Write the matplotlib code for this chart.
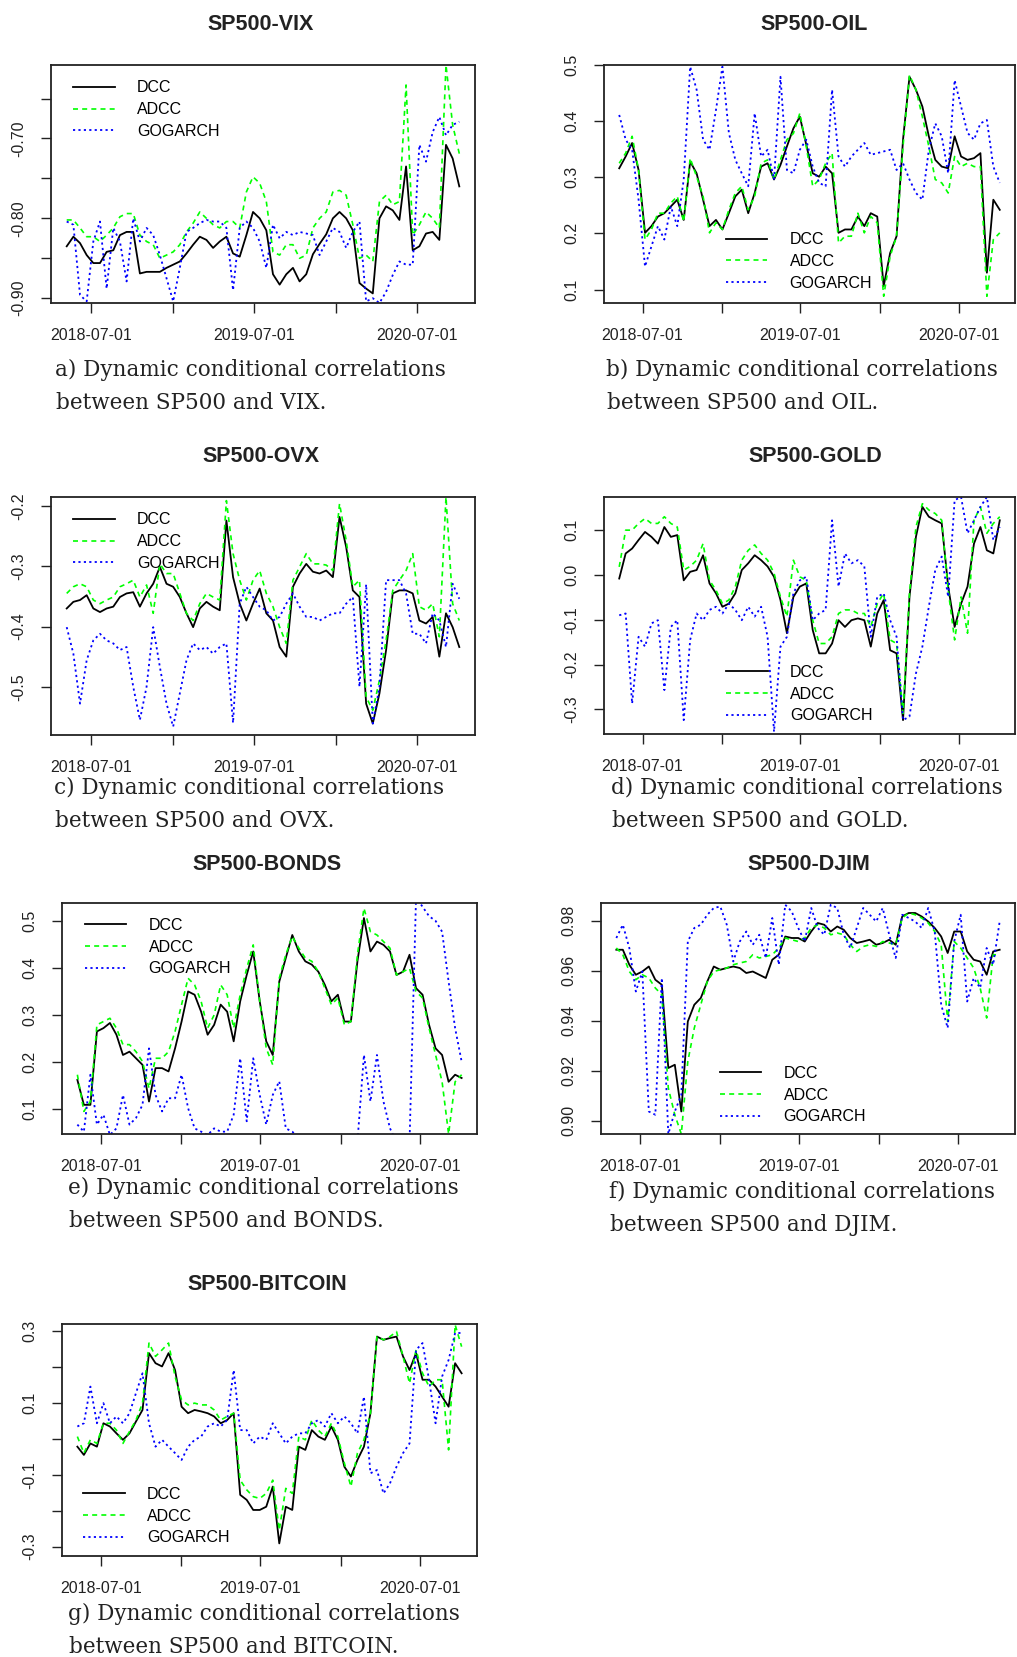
import matplotlib
matplotlib.use("Agg")
import matplotlib.pyplot as plt
import pandas as pd

# dates communes a toutes les series (echantillon)
dates = pd.date_range("2018-05-08", "2020-10-04", periods=60)
tick_dates = pd.to_datetime(["2018-07-01", "2019-01-01", "2019-07-01", "2020-01-01", "2020-07-01"])
tick_labels = ["2018-07-01", "", "2019-07-01", "", "2020-07-01"]
series_names = ["DCC", "ADCC", "GOGARCH"]

vix_dcc = [-0.835, -0.823, -0.831, -0.846, -0.856, -0.856, -0.842, -0.840, -0.821, -0.817,
           -0.817, -0.869, -0.867, -0.867, -0.867, -0.862, -0.858, -0.854, -0.844, -0.833,
           -0.823, -0.827, -0.837, -0.829, -0.823, -0.844, -0.848, -0.821, -0.792, -0.800,
           -0.815, -0.870, -0.883, -0.870, -0.862, -0.879, -0.870, -0.845, -0.832, -0.820,
           -0.800, -0.792, -0.800, -0.815, -0.881, -0.888, -0.894, -0.800, -0.785, -0.790,
           -0.802, -0.735, -0.840, -0.835, -0.819, -0.817, -0.827, -0.708, -0.725, -0.760]
vix_adcc = [-0.802, -0.802, -0.812, -0.823, -0.823, -0.829, -0.821, -0.812, -0.798, -0.794,
            -0.794, -0.821, -0.829, -0.833, -0.850, -0.846, -0.842, -0.833, -0.817, -0.806,
            -0.792, -0.800, -0.808, -0.812, -0.804, -0.804, -0.812, -0.767, -0.748, -0.756,
            -0.779, -0.842, -0.846, -0.833, -0.833, -0.850, -0.846, -0.812, -0.800, -0.792,
            -0.767, -0.765, -0.771, -0.808, -0.850, -0.846, -0.854, -0.779, -0.771, -0.783,
            -0.779, -0.633, -0.821, -0.808, -0.792, -0.800, -0.812, -0.608, -0.683, -0.719]
vix_gogarch = [-0.804, -0.808, -0.896, -0.904, -0.829, -0.804, -0.888, -0.812, -0.829, -0.879,
               -0.800, -0.829, -0.812, -0.821, -0.846, -0.875, -0.904, -0.862, -0.817, -0.812,
               -0.806, -0.802, -0.804, -0.804, -0.812, -0.890, -0.812, -0.804, -0.812, -0.829,
               -0.862, -0.808, -0.825, -0.817, -0.821, -0.817, -0.819, -0.821, -0.846, -0.829,
               -0.812, -0.817, -0.837, -0.817, -0.804, -0.904, -0.900, -0.906, -0.892, -0.871,
               -0.854, -0.858, -0.858, -0.708, -0.729, -0.692, -0.673, -0.696, -0.683, -0.679]

oil_dcc = [0.316, 0.337, 0.361, 0.313, 0.201, 0.213, 0.230, 0.236, 0.248, 0.260,
           0.224, 0.328, 0.307, 0.260, 0.213, 0.224, 0.207, 0.236, 0.266, 0.278,
           0.236, 0.272, 0.319, 0.325, 0.296, 0.322, 0.355, 0.387, 0.408, 0.358,
           0.307, 0.301, 0.319, 0.307, 0.201, 0.207, 0.207, 0.230, 0.213, 0.236,
           0.230, 0.106, 0.165, 0.195, 0.367, 0.479, 0.456, 0.426, 0.373, 0.331,
           0.319, 0.316, 0.373, 0.337, 0.331, 0.334, 0.343, 0.130, 0.260, 0.242]
oil_adcc = [0.325, 0.343, 0.373, 0.313, 0.189, 0.207, 0.236, 0.236, 0.254, 0.266,
            0.221, 0.334, 0.301, 0.266, 0.201, 0.219, 0.207, 0.242, 0.272, 0.284,
            0.242, 0.266, 0.325, 0.331, 0.296, 0.331, 0.367, 0.378, 0.414, 0.355,
            0.284, 0.296, 0.325, 0.343, 0.183, 0.195, 0.195, 0.236, 0.201, 0.230,
            0.219, 0.088, 0.159, 0.195, 0.355, 0.482, 0.456, 0.408, 0.355, 0.296,
            0.290, 0.272, 0.337, 0.319, 0.325, 0.319, 0.319, 0.088, 0.189, 0.201]
oil_gogarch = [0.411, 0.367, 0.349, 0.260, 0.141, 0.177, 0.213, 0.189, 0.248, 0.213,
               0.296, 0.497, 0.456, 0.367, 0.349, 0.420, 0.497, 0.379, 0.331, 0.307,
               0.284, 0.414, 0.337, 0.349, 0.296, 0.479, 0.313, 0.307, 0.349, 0.367,
               0.319, 0.290, 0.284, 0.456, 0.337, 0.319, 0.337, 0.349, 0.361, 0.340,
               0.343, 0.346, 0.349, 0.313, 0.325, 0.296, 0.272, 0.260, 0.349, 0.396,
               0.373, 0.307, 0.473, 0.426, 0.379, 0.367, 0.396, 0.402, 0.319, 0.290]

ovx_dcc = [-0.370, -0.359, -0.356, -0.348, -0.370, -0.376, -0.370, -0.367, -0.351, -0.345,
           -0.343, -0.367, -0.345, -0.329, -0.301, -0.329, -0.334, -0.351, -0.378, -0.401,
           -0.370, -0.359, -0.367, -0.373, -0.224, -0.318, -0.362, -0.390, -0.362, -0.337,
           -0.378, -0.390, -0.434, -0.450, -0.334, -0.312, -0.296, -0.309, -0.312, -0.307,
           -0.318, -0.218, -0.268, -0.340, -0.351, -0.528, -0.561, -0.511, -0.439, -0.345,
           -0.340, -0.340, -0.345, -0.390, -0.395, -0.384, -0.450, -0.378, -0.401, -0.434]
ovx_adcc = [-0.345, -0.334, -0.329, -0.334, -0.356, -0.362, -0.356, -0.351, -0.334, -0.329,
            -0.323, -0.351, -0.331, -0.378, -0.296, -0.312, -0.312, -0.345, -0.378, -0.390,
            -0.362, -0.345, -0.351, -0.356, -0.191, -0.279, -0.323, -0.356, -0.323, -0.307,
            -0.345, -0.367, -0.401, -0.428, -0.323, -0.301, -0.279, -0.296, -0.296, -0.298,
            -0.307, -0.196, -0.257, -0.334, -0.323, -0.517, -0.539, -0.489, -0.423, -0.340,
            -0.323, -0.307, -0.279, -0.367, -0.373, -0.362, -0.417, -0.185, -0.362, -0.390]
ovx_gogarch = [-0.401, -0.445, -0.528, -0.456, -0.423, -0.412, -0.423, -0.428, -0.439, -0.434,
               -0.500, -0.555, -0.500, -0.401, -0.467, -0.528, -0.566, -0.511, -0.456, -0.428,
               -0.439, -0.434, -0.445, -0.434, -0.428, -0.560, -0.362, -0.334, -0.351, -0.367,
               -0.373, -0.390, -0.384, -0.362, -0.345, -0.367, -0.384, -0.384, -0.390, -0.384,
               -0.378, -0.378, -0.362, -0.351, -0.500, -0.330, -0.561, -0.500, -0.323, -0.323,
               -0.323, -0.345, -0.412, -0.412, -0.428, -0.378, -0.390, -0.434, -0.329, -0.354]

gold_dcc = [-0.008, 0.048, 0.059, 0.078, 0.096, 0.085, 0.070, 0.107, 0.085, 0.089,
            -0.012, 0.007, 0.011, 0.044, -0.019, -0.041, -0.071, -0.064, -0.041, 0.011,
            0.026, 0.044, 0.033, 0.019, -0.004, -0.056, -0.130, -0.049, -0.026, -0.019,
            -0.123, -0.175, -0.175, -0.153, -0.101, -0.116, -0.101, -0.097, -0.101, -0.160,
            -0.086, -0.056, -0.168, -0.175, -0.324, -0.049, 0.085, 0.152, 0.130, 0.122,
            0.115, -0.026, -0.116, -0.064, -0.026, 0.070, 0.107, 0.055, 0.048, 0.122]
gold_adcc = [0.018, 0.100, 0.100, 0.115, 0.126, 0.115, 0.115, 0.130, 0.115, 0.107,
             0.011, 0.019, 0.033, 0.070, -0.012, -0.034, -0.064, -0.056, -0.026, 0.033,
             0.055, 0.067, 0.048, 0.033, 0.004, -0.049, -0.093, 0.033, -0.004, -0.012,
             -0.101, -0.153, -0.153, -0.138, -0.086, -0.078, -0.078, -0.086, -0.086, -0.116,
             -0.064, -0.041, -0.145, -0.153, -0.309, -0.041, 0.107, 0.159, 0.145, 0.137,
             0.122, -0.034, -0.145, -0.049, -0.130, 0.122, 0.152, 0.093, 0.115, 0.130]
gold_gogarch = [-0.090, -0.086, -0.287, -0.138, -0.160, -0.108, -0.101, -0.257, -0.116, -0.101,
                -0.324, -0.145, -0.086, -0.101, -0.078, -0.071, -0.086, -0.064, -0.078, -0.101,
                -0.071, -0.093, -0.071, -0.138, -0.350, -0.160, -0.138, -0.041, -0.012, -0.004,
                -0.101, -0.086, -0.078, 0.122, -0.026, 0.048, 0.026, 0.033, 0.019, -0.138,
                -0.049, -0.041, -0.101, -0.138, -0.324, -0.316, -0.220, -0.160, -0.071, 0.011,
                0.041, -0.049, 0.167, 0.174, 0.093, 0.122, 0.152, 0.174, 0.078, 0.107]

bonds_dcc = [0.162, 0.109, 0.109, 0.265, 0.272, 0.283, 0.258, 0.215, 0.222, 0.208,
             0.194, 0.116, 0.187, 0.187, 0.180, 0.229, 0.286, 0.350, 0.343, 0.307,
             0.258, 0.279, 0.322, 0.307, 0.244, 0.329, 0.385, 0.435, 0.329, 0.244,
             0.215, 0.371, 0.421, 0.470, 0.435, 0.414, 0.407, 0.392, 0.364, 0.329,
             0.343, 0.286, 0.286, 0.414, 0.506, 0.435, 0.456, 0.449, 0.435, 0.385,
             0.392, 0.428, 0.357, 0.343, 0.279, 0.229, 0.215, 0.158, 0.173, 0.166]
bonds_adcc = [0.173, 0.095, 0.116, 0.279, 0.286, 0.293, 0.272, 0.237, 0.237, 0.222,
              0.201, 0.144, 0.208, 0.208, 0.222, 0.265, 0.322, 0.378, 0.364, 0.329,
              0.272, 0.300, 0.364, 0.343, 0.272, 0.343, 0.399, 0.449, 0.329, 0.229,
              0.194, 0.378, 0.428, 0.467, 0.442, 0.421, 0.414, 0.392, 0.357, 0.322,
              0.336, 0.279, 0.286, 0.428, 0.527, 0.477, 0.470, 0.456, 0.442, 0.385,
              0.392, 0.399, 0.350, 0.336, 0.272, 0.215, 0.158, 0.047, 0.158, 0.173]
bonds_gogarch = [0.067, 0.052, 0.173, 0.067, 0.088, 0.045, 0.059, 0.130, 0.067, 0.081,
                 0.109, 0.229, 0.130, 0.095, 0.123, 0.123, 0.173, 0.102, 0.059, 0.052,
                 0.045, 0.059, 0.052, 0.052, 0.088, 0.208, 0.074, 0.208, 0.130, 0.067,
                 0.130, 0.159, 0.059, 0.052, 0.038, 0.030, 0.030, 0.030, 0.030, 0.030,
                 0.030, 0.030, 0.030, 0.030, 0.215, 0.116, 0.215, 0.116, 0.059, 0.030,
                 0.030, 0.030, 0.550, 0.530, 0.510, 0.500, 0.477, 0.371, 0.272, 0.201]

djim_dcc = [0.9684, 0.9684, 0.9624, 0.9584, 0.9597, 0.9617, 0.9564, 0.9544, 0.9211, 0.9224,
            0.9037, 0.9397, 0.9464, 0.9491, 0.9557, 0.9617, 0.9604, 0.9611, 0.9617, 0.9611,
            0.9591, 0.9597, 0.9584, 0.9571, 0.9644, 0.9664, 0.9737, 0.9731, 0.9731, 0.9717,
            0.9757, 0.9791, 0.9784, 0.9757, 0.9777, 0.9764, 0.9731, 0.9711, 0.9717, 0.9724,
            0.9704, 0.9711, 0.9724, 0.9704, 0.9817, 0.9831, 0.9831, 0.9817, 0.9797, 0.9771,
            0.9737, 0.9671, 0.9757, 0.9757, 0.9677, 0.9644, 0.9637, 0.9584, 0.9677, 0.9684]
djim_adcc = [0.9691, 0.9664, 0.9597, 0.9564, 0.9584, 0.9571, 0.9531, 0.9504, 0.9131, 0.9024,
             0.8947, 0.9237, 0.9371, 0.9464, 0.9557, 0.9597, 0.9604, 0.9611, 0.9624, 0.9631,
             0.9637, 0.9664, 0.9651, 0.9657, 0.9664, 0.9691, 0.9731, 0.9724, 0.9717, 0.9731,
             0.9771, 0.9784, 0.9771, 0.9744, 0.9751, 0.9744, 0.9704, 0.9677, 0.9697, 0.9704,
             0.9697, 0.9717, 0.9711, 0.9704, 0.9811, 0.9831, 0.9824, 0.9811, 0.9791, 0.9757,
             0.9704, 0.9397, 0.9717, 0.9691, 0.9651, 0.9611, 0.9531, 0.9411, 0.9664, 0.9664]
djim_gogarch = [0.9731, 0.9784, 0.9691, 0.9517, 0.9597, 0.9037, 0.9024, 0.9571, 0.8947, 0.9037,
                0.9104, 0.9717, 0.9771, 0.9784, 0.9824, 0.9851, 0.9857, 0.9784, 0.9637, 0.9717,
                0.9757, 0.9704, 0.9744, 0.9651, 0.9811, 0.9624, 0.9864, 0.9837, 0.9771, 0.9717,
                0.9851, 0.9771, 0.9744, 0.9864, 0.9851, 0.9744, 0.9691, 0.9771, 0.9851, 0.9824,
                0.9797, 0.9851, 0.9744, 0.9651, 0.9824, 0.9811, 0.9797, 0.9771, 0.9851, 0.9757,
                0.9464, 0.9371, 0.9717, 0.9824, 0.9477, 0.9571, 0.9531, 0.9691, 0.9624, 0.9797]

btc_dcc = [-0.022, -0.045, -0.013, -0.022, 0.043, 0.034, 0.015, -0.003, 0.015, 0.048,
           0.080, 0.238, 0.210, 0.201, 0.238, 0.191, 0.089, 0.071, 0.080, 0.076,
           0.071, 0.062, 0.043, 0.052, 0.071, -0.156, -0.170, -0.198, -0.198, -0.189,
           -0.133, -0.291, -0.189, -0.198, -0.022, -0.031, 0.024, 0.006, -0.003, 0.034,
           -0.003, -0.078, -0.105, -0.059, -0.022, 0.071, 0.284, 0.275, 0.280, 0.284,
           0.229, 0.191, 0.238, 0.164, 0.164, 0.145, 0.117, 0.089, 0.210, 0.182]
btc_adcc = [0.006, -0.040, -0.003, -0.013, 0.043, 0.043, 0.024, -0.013, 0.020, 0.052,
            0.099, 0.266, 0.229, 0.247, 0.266, 0.173, 0.108, 0.094, 0.099, 0.094,
            0.094, 0.080, 0.052, 0.062, 0.071, -0.115, -0.142, -0.161, -0.166, -0.152,
            -0.115, -0.254, -0.138, -0.152, 0.006, -0.003, 0.052, 0.024, 0.006, 0.043,
            0.006, -0.068, -0.133, -0.040, -0.003, 0.071, 0.284, 0.275, 0.284, 0.298,
            0.229, 0.154, 0.247, 0.182, 0.145, 0.164, 0.164, -0.031, 0.317, 0.256]
btc_gogarch = [0.034, 0.043, 0.145, 0.043, 0.099, 0.043, 0.062, 0.043, 0.071, 0.127,
               0.182, 0.043, -0.022, -0.003, -0.022, -0.040, -0.059, -0.022, -0.003, 0.006,
               0.034, 0.043, 0.034, 0.052, 0.191, 0.024, 0.024, -0.013, 0.006, -0.003,
               0.043, 0.015, -0.013, 0.006, 0.015, 0.015, 0.043, 0.052, 0.034, 0.071,
               0.043, 0.062, 0.043, 0.015, 0.117, -0.096, -0.087, -0.152, -0.124, -0.078,
               -0.040, -0.013, 0.247, 0.266, 0.164, 0.043, 0.173, 0.219, 0.294, 0.294]

W, H = 1017, 1657
fig = plt.figure(figsize=(W / 100, H / 100), dpi=100)

TICK_FONT = ["Liberation Sans", "DejaVu Sans"]
TITLE_FONT = ["Liberation Sans", "DejaVu Sans"]
CAP_FONT = ["DejaVu Serif"]

# (titre, series, boite en pixels, ylim, yticks, ylabels, legende xy, titre xy, lettre, nom, legende texte xy)
panels = [
    ("SP500-VIX", (vix_dcc, vix_adcc, vix_gogarch), (51, 65, 475, 303), (-0.906, -0.608),
     [-0.90, -0.85, -0.80, -0.75, -0.70, -0.65], ["-0.90", "", "-0.80", "", "-0.70", ""],
     (0.052, 0.935), (261, 25), "a", "VIX", (55, 370)),
    ("SP500-OIL", (oil_dcc, oil_adcc, oil_gogarch), (604, 65, 1015, 303), (0.076, 0.50),
     [0.1, 0.2, 0.3, 0.4, 0.5], ["0.1", "0.2", "0.3", "0.4", "0.5"],
     (0.296, 0.297), (814, 25), "b", "OIL", (606, 370)),
    ("SP500-OVX", (ovx_dcc, ovx_adcc, ovx_gogarch), (51, 497, 475, 735), (-0.580, -0.185),
     [-0.5, -0.4, -0.3, -0.2], ["-0.5", "-0.4", "-0.3", "-0.2"],
     (0.052, 0.935), (261, 457), "c", "OVX", (54, 788)),
    ("SP500-GOLD", (gold_dcc, gold_adcc, gold_gogarch), (604, 497, 1015, 734), (-0.355, 0.174),
     [-0.3, -0.2, -0.1, 0.0, 0.1], ["-0.3", "-0.2", "-0.1", "0.0", "0.1"],
     (0.297, 0.292), (815, 457), "d", "GOLD", (611, 788)),
    ("SP500-BONDS", (bonds_dcc, bonds_adcc, bonds_gogarch), (62, 903, 477, 1134), (0.047, 0.538),
     [0.1, 0.2, 0.3, 0.4, 0.5], ["0.1", "0.2", "0.3", "0.4", "0.5"],
     (0.055, 0.935), (267, 865), "e", "BONDS", (68, 1188)),
    ("SP500-DJIM", (djim_dcc, djim_adcc, djim_gogarch), (601, 903, 1015, 1134), (0.8947, 0.9871),
     [0.90, 0.92, 0.94, 0.96, 0.98], ["0.90", "0.92", "0.94", "0.96", "0.98"],
     (0.287, 0.295), (809, 865), "f", "DJIM", (609, 1192)),
    ("SP500-BITCOIN", (btc_dcc, btc_adcc, btc_gogarch), (62, 1324, 477, 1556), (-0.326, 0.319),
     [-0.3, -0.2, -0.1, 0.0, 0.1, 0.2, 0.3], ["-0.3", "", "-0.1", "", "0.1", "", "0.3"],
     (0.051, 0.298), (267, 1284), "g", "BITCOIN", (68, 1614)),
]

span = dates[-1] - dates[0]
xlim = (dates[0] - 0.04 * span, dates[-1] + 0.04 * span)

for title, (s_dcc, s_adcc, s_go), (x0, y0, x1, y1), ylim, yt, ylab, leg_xy, t_xy, letter, name, c_xy in panels:
    ax = fig.add_axes([x0 / W, 1 - y1 / H, (x1 - x0) / W, (y1 - y0) / H])
    ax.plot(dates, s_dcc, color="black", lw=1.3, label=series_names[0])
    ax.plot(dates, s_adcc, color="#00ff00", lw=1.2, dashes=(3, 2.5), label=series_names[1])
    ax.plot(dates, s_go, color="#0000ff", lw=1.3, linestyle=(0, (1.2, 1.8)), label=series_names[2])
    ax.set_xlim(xlim)
    ax.set_ylim(ylim)
    ax.set_xticks(tick_dates)
    ax.set_xticklabels(tick_labels, family=TICK_FONT, fontsize=11.5, color="#222222")
    ax.set_yticks(yt)
    ax.set_yticklabels(ylab, family=TICK_FONT, fontsize=11.5, color="#222222", rotation=90, va="center")
    ax.tick_params(direction="out", length=7, width=1.0, color="#222222")
    ax.tick_params(axis="x", pad=11)
    ax.tick_params(axis="y", pad=11)
    for sp in ax.spines.values():
        sp.set_linewidth(1.3)
        sp.set_color("#222222")
    ax.legend(loc="upper left", bbox_to_anchor=leg_xy, frameon=False, borderpad=0, borderaxespad=0,
              handlelength=2.6, handletextpad=1.4, labelspacing=0.42,
              prop={"family": TICK_FONT, "size": 11.5})

    fig.text(t_xy[0] / W, 1 - t_xy[1] / H, title, ha="center", va="center",
             family=TITLE_FONT, fontsize=15.5, fontweight="bold", color="#222222")
    fig.text(c_xy[0] / W, 1 - c_xy[1] / H, f"{letter}) Dynamic conditional correlations",
             ha="left", va="center", family=CAP_FONT, fontsize=15.5, color="#222222")
    fig.text((c_xy[0] + 1) / W, 1 - (c_xy[1] + 33) / H, f"between SP500 and {name}.",
             ha="left", va="center", family=CAP_FONT, fontsize=15.5, color="#222222")

fig.savefig("out.png", dpi=100)
